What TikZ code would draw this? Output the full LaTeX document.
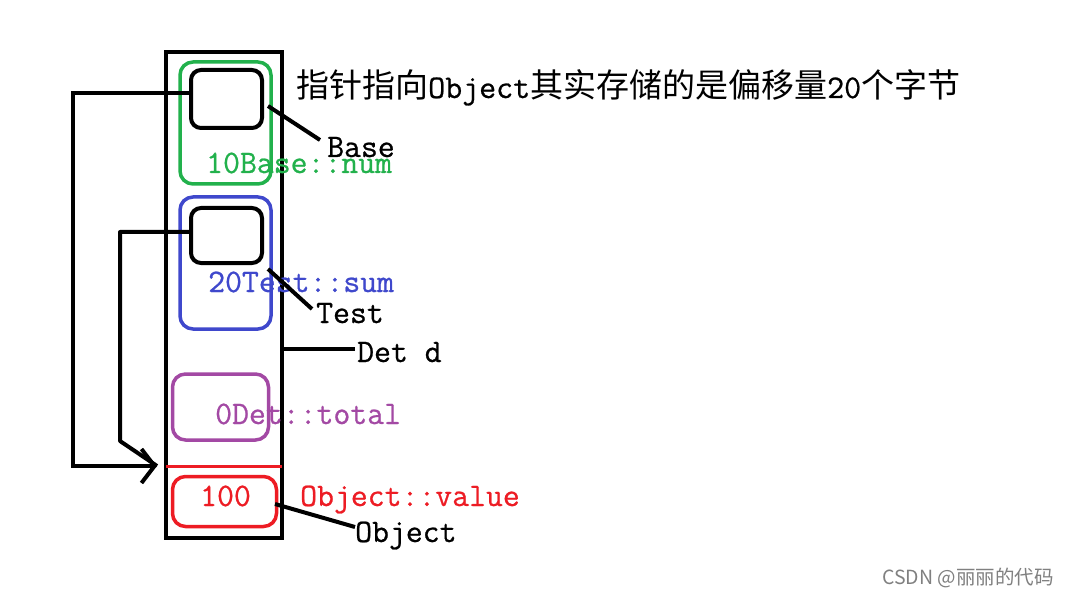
\documentclass[tikz,border=0pt]{standalone}
\usepackage{fontspec}
\newfontfamily\cjk{Noto Sans CJK SC}
\newfontfamily\lmm{Latin Modern Mono}[FakeBold=0.7]
\usetikzlibrary{arrows.meta}
\definecolor{pgreen}{RGB}{34,177,76}
\definecolor{pblue}{RGB}{63,72,204}
\definecolor{ppurple}{RGB}{163,73,164}
\definecolor{pred}{RGB}{237,28,36}
\definecolor{wmgray}{RGB}{128,128,128}
\tikzset{
  box/.style={draw, inner sep=0pt, outer sep=0pt},
  slot/.style={box, line width=3.5pt, rounded corners=13pt},
  ptrbox/.style={box, line width=4pt, rounded corners=10pt, draw=black},
  conn/.style={line width=4pt, black},
  lbl/.style={inner sep=0pt, anchor=base west, font=\lmm\fontsize{32.8}{36}\selectfont},
}
\begin{document}
\begin{tikzpicture}[x=1pt,y=-1pt]
\useasboundingbox (0,0) rectangle (1068,596);
\fill[white] (0,0) rectangle (1068,596);
% outer object
\node[box, line width=4pt, minimum width=116pt, minimum height=486pt] (obj) at (224,295) {};
% slots
\node[slot, draw=pgreen, minimum width=91pt, minimum height=122pt] (green) at (225.5,123) {};
\node[ptrbox, minimum width=71pt, minimum height=58pt] (basebox) at (226.5,99) {};
\node[slot, draw=pblue, minimum width=91pt, minimum height=132pt] (blue) at (225.5,263) {};
\node[ptrbox, minimum width=71pt, minimum height=55pt] (testbox) at (226.5,235.5) {};
\node[slot, draw=ppurple, minimum width=96pt, minimum height=66pt] (purple) at (220.5,407) {};
\node[slot, draw=pred, minimum width=104pt, minimum height=50pt] (redbox) at (224.5,501.5) {};
% red separator
\coordinate (sep) at (224,466);
\draw[pred, line width=3pt] (obj.west |- sep) -- (obj.east |- sep);
% labels
\node[lbl] (lbase) at (327,157) {Base};
\node[lbl, text=pgreen] (lnum) at (206,173) {10Base::num};
\node[lbl, text=pblue] (lsum) at (208,292) {20Test::sum};
\node[lbl] (ltest) at (316,323) {Test};
\node[lbl] (ldet) at (357,362) {Det d};
\node[lbl, text=ppurple] (ltotal) at (215,424) {0Det::total};
\node[lbl, text=pred] (l100) at (200,506) {100};
\node[lbl, text=pred] (lvalue) at (300,506) {Object::value};
\node[lbl] (lobject) at (355,542) {Object};
% title
\node[inner sep=0pt, anchor=base west, font=\fontsize{33}{38}\selectfont] (title) at (296,98)
  {{\cjk 指针指向}{\lmm Object}{\cjk 其实存储的是偏移量}{\lmm 20}{\cjk 个字节}};
% watermark
\node[inner sep=0pt, anchor=west, text=wmgray, font=\cjk\fontsize{19.5}{22}\selectfont] (wm) at (882,578) {CSDN @丽丽的代码};
% label connectors
\coordinate (bstart) at (268,106);
\coordinate (bend) at (320,140);
\draw[conn] (bstart) -- (bend);
\coordinate (tstart) at (268,269);
\coordinate (tend) at (312,309);
\draw[conn] (tstart) -- (tend);
\coordinate (dstart) at (282,349);
\coordinate (dend) at (355,349);
\draw[conn] (dstart) -- (dend);
\coordinate (ostart) at (275,504);
\coordinate (oend) at (355,527);
\draw[conn] (ostart) -- (oend);
% pointer arrows
\coordinate (tip) at (157,466);
\draw[conn, -{Straight Barb[length=13pt,width=34pt,line width=4pt]}] ([yshift=6pt]basebox.west) -- ++(-118,0) |- (tip);
\draw[conn, line join=round] ([yshift=3.5pt]testbox.west) -- ++(-71,0) -- ++(0,209) -- (tip);
\end{tikzpicture}
\end{document}
